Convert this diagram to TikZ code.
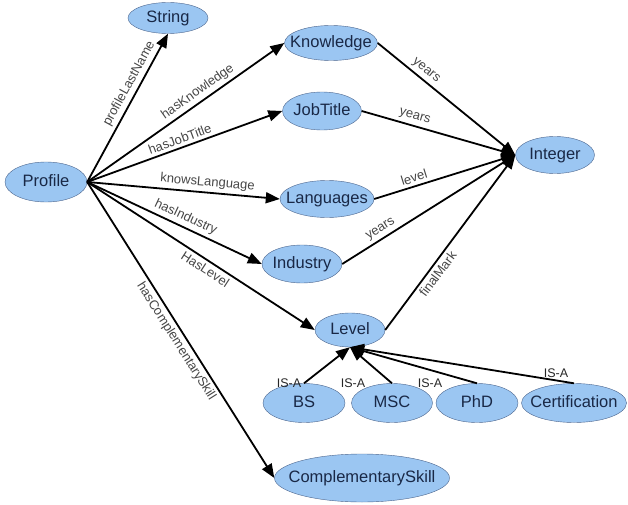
\documentclass[tikz,border=0pt]{standalone}
\usepackage{fontspec}
\setmainfont{Liberation Sans}
\usetikzlibrary{shapes.geometric, arrows.meta}

\definecolor{conceptfill}{RGB}{155,198,242}
\definecolor{conceptline}{RGB}{75,100,140}
\definecolor{concepttext}{RGB}{25,40,70}
\definecolor{labelgrey}{RGB}{70,70,70}

\tikzstyle{concept} = [
    ellipse,
    draw=conceptline,
    fill=conceptfill,
    text=concepttext,
    inner sep=0pt,
    text height=12pt,
    text depth=3.5pt,
    minimum width=80pt,
    minimum height=38pt,
    font=\fontsize{16.5}{18}\selectfont,
    execute at begin node={\hbox to 0pt\bgroup\hss},
    execute at end node={\hss\egroup}
]
\tikzstyle{arrow} = [line width=1.8pt, -{Triangle[length=14pt,width=11pt]}]
\tikzstyle{edgelabel} = [
    sloped,
    inner sep=3pt,
    text=labelgrey,
    font=\fontsize{13}{14}\selectfont
]
\tikzstyle{isa} = [
    inner sep=2pt,
    text=black!85,
    font=\fontsize{12.5}{14}\selectfont
]

\begin{document}
\begin{tikzpicture}[x=1pt, y=-1pt]
\useasboundingbox (0,0) rectangle (628,505);

\node (profile) [concept, minimum width=82pt, minimum height=40pt] at (46,182) {Profile};

\node (string) [concept, minimum height=31pt] at (168,18) {String};

\node (knowledge) [concept, minimum width=93pt, minimum height=35pt] at (331,43) {Knowledge};

\node (jobtitle) [concept, minimum width=79pt] at (322,111) {JobTitle};

\node (languages) [concept, minimum width=94pt, minimum height=37pt] at (327,199) {Languages};

\node (industry) [concept] at (302,264) {Industry};

\node (integer) [concept, minimum width=79pt, minimum height=37pt] at (555,155) {Integer};

\node (level) [concept, minimum width=70pt, minimum height=34pt] at (350,330) {Level};

\node (bs) [concept, minimum width=82pt, minimum height=39pt] at (304,403) {BS};
\node (msc) [concept, minimum width=81pt, minimum height=39pt] at (392,403) {MSC};
\node (phd) [concept, minimum width=82pt, minimum height=39pt] at (477,403) {PhD};
\node (certification) [concept, minimum width=105pt, minimum height=39pt] at (574,403) {Certification};

\node (compskill) [concept, minimum width=175pt, minimum height=48pt] at (362,478) {ComplementarySkill};

% properties of a profile
\draw [arrow] (profile.east) -- node[edgelabel, above, pos=0.63]{profileLastName} (string.south);
\draw [arrow] (profile.east) -- node[edgelabel, above, pos=0.59]{hasKnowledge} (knowledge.west);
\draw [arrow] (profile.east) -- node[edgelabel, above, pos=0.49]{hasJobTitle} (jobtitle.west);
\draw [arrow] (profile.east) -- node[edgelabel, above, pos=0.62]{knowsLanguage} (languages.west);
\draw [arrow] (profile.east) -- node[edgelabel, above, pos=0.54]{hasIndustry} (industry.west);
\draw [arrow] (profile.east) -- node[edgelabel, below, pos=0.54]{HasLevel} (level.west);
\draw [arrow] (profile.east) -- node[edgelabel, below, pos=0.52]{hasComplementarySkill} (compskill.west);

% integer values
\draw [arrow] (knowledge.east) -- node[edgelabel, above, pos=0.31]{years} (integer.west);
\draw [arrow] (jobtitle.east) -- node[edgelabel, above, pos=0.33]{years} (integer.west);
\draw [arrow] (languages.east) -- node[edgelabel, above, pos=0.30]{level} (integer.west);
\draw [arrow] (industry.east) -- node[edgelabel, above, pos=0.25]{years} (integer.west);
\draw [arrow] (level.east) -- node[edgelabel, below, pos=0.35]{finalMark} (integer.west);

% kinds of level
\draw [arrow] (bs.north) -- node[isa, pos=0, left]{IS-A} (level.south);
\draw [arrow] (msc.north) -- node[isa, pos=0, left=24pt]{IS-A} (level.south);
\draw [arrow] (phd.north) -- node[isa, pos=0, left=32pt]{IS-A} (level.south);
\draw [arrow] (certification.north) -- node[isa, pos=0.08, above]{IS-A} (level.south);

\end{tikzpicture}
\end{document}
